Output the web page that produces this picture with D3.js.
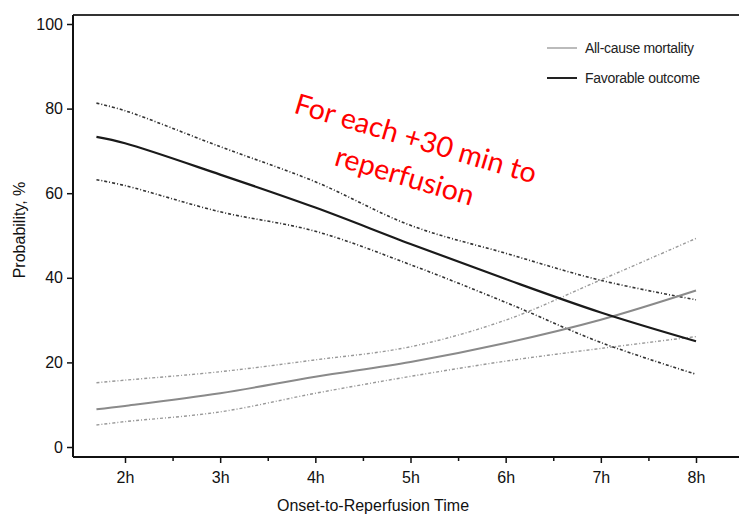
<!DOCTYPE html>
<html>
<head>
<meta charset="utf-8">
<script src="https://cdn.jsdelivr.net/npm/d3@7"></script>
<style>
  body { margin: 0; background: #fff; }
  svg { display: block; }
  .axis text { font-family: "Liberation Sans", Arial, sans-serif; font-size: 16px; fill: #111; }
</style>
</head>
<body>
<div id="chart"></div>
<script>
// hours after onset, and predicted probabilities (%)
const hours = [1.7, 2, 3, 4, 5, 6, 7, 8];
const favorable = [73.3, 71.8, 64.4, 56.6, 48.0, 39.7, 31.8, 25.0];
const favorableUpper = [81.3, 79.5, 71.0, 62.7, 52.4, 45.8, 39.4, 34.8];
const favorableLower = [63.2, 61.8, 55.6, 51.0, 43.1, 34.2, 24.7, 17.2];
const mortality = [8.9, 9.7, 12.7, 16.6, 20.1, 24.6, 30.1, 37.0];
const mortalityUpper = [15.2, 15.8, 17.8, 20.6, 23.7, 30.0, 39.5, 49.3];
const mortalityLower = [5.2, 6.0, 8.3, 12.7, 16.7, 20.3, 23.3, 26.1];

const xTicks = [2, 3, 4, 5, 6, 7, 8];
const xMinorTicks = [2.5, 3.5, 4.5, 5.5, 6.5, 7.5];
const yTicks = [0, 20, 40, 60, 80, 100];
const legendLabels = ["All-cause mortality", "Favorable outcome"];

const width = 739, height = 516;
const frameLeft = 73, frameTop = 15, frameBottom = 457;

const svg = d3.select("#chart").append("svg")
    .attr("width", width)
    .attr("height", height);

const x = d3.scaleLinear().domain([2, 8]).range([125, 696]);
const y = d3.scaleLinear().domain([0, 100]).range([447, 24]);

// frame: top border, left and bottom axis lines
svg.append("line")
    .attr("x1", frameLeft).attr("x2", width)
    .attr("y1", frameTop).attr("y2", frameTop)
    .attr("stroke", "#333").attr("stroke-width", 2);
svg.append("line")
    .attr("x1", frameLeft).attr("x2", frameLeft)
    .attr("y1", frameTop).attr("y2", frameBottom)
    .attr("stroke", "#111").attr("stroke-width", 2);
svg.append("line")
    .attr("x1", frameLeft).attr("x2", width)
    .attr("y1", frameBottom).attr("y2", frameBottom)
    .attr("stroke", "#111").attr("stroke-width", 2);

// y axis
const yAxis = svg.append("g")
    .attr("class", "axis")
    .attr("transform", `translate(${frameLeft},0)`)
    .call(d3.axisLeft(y).tickValues(yTicks).tickSize(6).tickPadding(4));
yAxis.select(".domain").remove();
yAxis.selectAll(".tick line").attr("stroke", "#111").attr("stroke-width", 1.5);

// x axis
const xAxis = svg.append("g")
    .attr("class", "axis")
    .attr("transform", `translate(0,${frameBottom})`)
    .call(d3.axisBottom(x).tickValues(xTicks).tickFormat(d => d + "h").tickSize(6).tickPadding(9));
xAxis.select(".domain").remove();
xAxis.selectAll(".tick line").attr("stroke", "#111").attr("stroke-width", 1.5);

const xMinor = svg.append("g")
    .attr("transform", `translate(0,${frameBottom})`)
    .call(d3.axisBottom(x).tickValues(xMinorTicks).tickFormat("").tickSize(4));
xMinor.select(".domain").remove();
xMinor.selectAll(".tick line").attr("stroke", "#111").attr("stroke-width", 1.5);

// axis titles
svg.append("text")
    .attr("x", 373)
    .attr("y", 511)
    .attr("text-anchor", "middle")
    .style("font-family", "Liberation Sans, Arial, sans-serif")
    .style("font-size", "16px")
    .attr("fill", "#111")
    .text("Onset-to-Reperfusion Time");

svg.append("text")
    .attr("transform", "translate(25,230) rotate(-90)")
    .attr("text-anchor", "middle")
    .style("font-family", "Liberation Sans, Arial, sans-serif")
    .style("font-size", "16px")
    .attr("fill", "#111")
    .text("Probability, %");

// curves
const line = d3.line()
    .x((d, i) => x(hours[i]))
    .y(d => y(d))
    .curve(d3.curveCatmullRom.alpha(0.5));

const series = [
    { values: mortalityUpper, color: "#999", w: 1.4, dash: "3,2,1,2" },
    { values: mortalityLower, color: "#999", w: 1.4, dash: "3,2,1,2" },
    { values: favorableUpper, color: "#333", w: 1.6, dash: "3,2,1,2" },
    { values: favorableLower, color: "#333", w: 1.6, dash: "3,2,1,2" },
    { values: mortality, color: "#8a8a8a", w: 2, dash: null },
    { values: favorable, color: "#1a1a1a", w: 2.2, dash: null }
];

svg.selectAll("path.curve")
    .data(series)
    .enter()
    .append("path")
    .attr("class", "curve")
    .attr("d", d => line(d.values))
    .attr("fill", "none")
    .attr("stroke", d => d.color)
    .attr("stroke-width", d => d.w)
    .attr("stroke-dasharray", d => d.dash);

// legend
const legendColors = ["#bbb", "#222"];
const legend = svg.append("g")
    .attr("transform", "translate(547,48)");

legend.selectAll("line")
    .data(legendLabels)
    .enter()
    .append("line")
    .attr("x1", 0).attr("x2", 30)
    .attr("y1", (d, i) => i * 30).attr("y2", (d, i) => i * 30)
    .attr("stroke", (d, i) => legendColors[i])
    .attr("stroke-width", 2);

legend.selectAll("text")
    .data(legendLabels)
    .enter()
    .append("text")
    .attr("x", 38)
    .attr("y", (d, i) => i * 30 + 5)
    .style("font-family", "Liberation Sans, Arial, sans-serif")
    .style("font-size", "14px")
    .style("letter-spacing", "-0.3px")
    .attr("fill", "#222")
    .text(d => d);

// red annotation
const note = svg.append("g")
    .attr("transform", "translate(413,148) rotate(16.5)");

note.selectAll("text")
    .data(["For each +30 min to", "reperfusion"])
    .enter()
    .append("text")
    .attr("x", 0)
    .attr("y", (d, i) => i * 39)
    .attr("text-anchor", "middle")
    .style("font-family", "Lato, sans-serif")
    .style("font-size", "28.5px")
    .attr("fill", "#ff0000")
    .text(d => d);
</script>
</body>
</html>
